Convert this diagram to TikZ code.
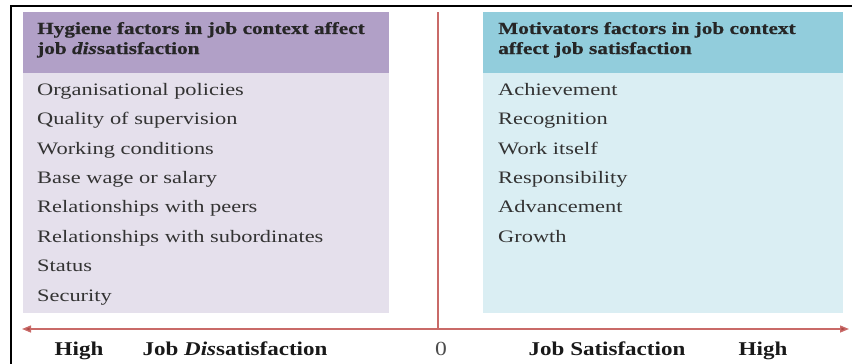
\documentclass[tikz,border=0pt]{standalone}
\usepackage{fontspec}
\setmainfont{Liberation Serif}[FakeStretch=1.28]
\newfontfamily\headfont{Liberation Serif}[FakeStretch=1.25, FakeBold=0.6]
\newfontfamily\axisfont{Liberation Serif}[FakeStretch=1.18]
\usetikzlibrary{arrows.meta}
\definecolor{hygHead}{HTML}{B1A0C7}
\definecolor{hygBody}{HTML}{E5E0EC}
\definecolor{motHead}{HTML}{92CDDC}
\definecolor{motBody}{HTML}{DAEEF3}
\definecolor{axisRed}{HTML}{C0504D}
\tikzset{
  panel/.style={anchor=north west, inner sep=0pt, minimum width=366pt},
  headtxt/.style={anchor=base west, inner sep=0pt, align=left,
    font=\headfont\fontsize{17}{21}\selectfont\bfseries, text=black!85},
  itemtxt/.style={anchor=base west, inner sep=0pt,
    font=\fontsize{17.5}{20}\selectfont, text=black!80},
  axislbl/.style={anchor=base, inner sep=0pt,
    font=\axisfont\fontsize{19.5}{22}\selectfont\bfseries, text=black!90},
  zerolbl/.style={anchor=base, inner sep=0pt,
    font=\axisfont\fontsize{20}{22}\selectfont, text=black!70},
  axisline/.style={draw=axisRed!85, line width=1.4pt},
}
\begin{document}
\begin{tikzpicture}[x=1pt, y=-1pt]
\useasboundingbox (0,0) rectangle (852,364);
% outer frame (left and top sides)
\coordinate (fBL) at (11,364);
\coordinate (fTL) at (11,6);
\coordinate (fTR) at (852,6);
\draw[line width=2pt, line join=miter] (fBL) -- (fTL) -- (fTR);

% hygiene panel
\node[panel, fill=hygHead, minimum height=61pt] (hygHeadBox) at (23,12) {};
\node[panel, fill=hygBody, minimum height=240pt] (hygBodyBox) at (23,73) {};
\node[headtxt] (hygTitle1) at (37,34) {Hygiene factors in job context affect};
\node[headtxt] (hygTitle2) at (37,54) {job \textit{dis}satisfaction};

% motivator panel
\node[panel, fill=motHead, minimum width=360pt, minimum height=61pt] (motHeadBox) at (483,12) {};
\node[panel, fill=motBody, minimum width=360pt, minimum height=240pt] (motBodyBox) at (483,73) {};
\node[headtxt] (motTitle1) at (498,34) {Motivators factors in job context};
\node[headtxt] (motTitle2) at (498,54) {affect job satisfaction};

% hygiene factors
\node[itemtxt] (h1) at (37,95) {Organisational policies};
\node[itemtxt] (h2) at (37,124.5) {Quality of supervision};
\node[itemtxt] (h3) at (37,154) {Working conditions};
\node[itemtxt] (h4) at (37,183) {Base wage or salary};
\node[itemtxt] (h5) at (37,212.5) {Relationships with peers};
\node[itemtxt] (h6) at (37,242) {Relationships with subordinates};
\node[itemtxt] (h7) at (37,271.5) {Status};
\node[itemtxt] (h8) at (37,301) {Security};

% motivators
\node[itemtxt] (m1) at (498,95) {Achievement};
\node[itemtxt] (m2) at (498,124.5) {Recognition};
\node[itemtxt] (m3) at (498,154) {Work itself};
\node[itemtxt] (m4) at (498,183) {Responsibility};
\node[itemtxt] (m5) at (498,212.5) {Advancement};
\node[itemtxt] (m6) at (498,242) {Growth};

% axes
\coordinate (vTop) at (438,12);
\coordinate (origin) at (438,329);
\coordinate (axL) at (22,329);
\coordinate (axR) at (849,329);
\draw[axisline] (vTop) -- (origin);
\draw[axisline, {Triangle[length=9pt,width=7pt,fill=axisRed!90!black]}-{Triangle[length=9pt,width=7pt,fill=axisRed!90!black]}] (axL) -- (axR);

% axis labels
\node[axislbl] (hiL) at (79,355) {High};
\node[axislbl] (jdis) at (235,355) {Job \textit{Dis}satisfaction};
\node[zerolbl] (zero) at (441,355) {0};
\node[axislbl] (jsat) at (607,355) {Job Satisfaction};
\node[axislbl] (hiR) at (763,355) {High};
\end{tikzpicture}
\end{document}
